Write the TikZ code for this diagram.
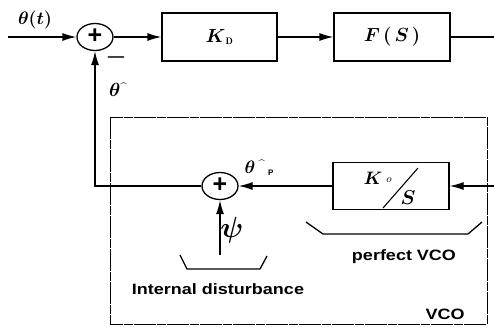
\RequirePackage{fix-cm}
\documentclass[tikz,border=0pt]{standalone}
\usepackage{fontspec}
\usepackage{bm}
\usepackage{graphicx}
\usetikzlibrary{arrows.meta,shapes.geometric}
\newfontfamily\hvfont{Liberation Sans}
\newcommand{\mfs}[1]{\fontsize{#1}{#1}\selectfont}
\newcommand{\lbl}[1]{{\hvfont\bfseries\fontsize{15}{15}\selectfont\scalebox{1.2}[1]{#1}}}
\newcommand{\hatmark}[1]{\raisebox{#1}{\fontsize{12}{12}\selectfont\^{}}}
\begin{document}
\begin{tikzpicture}[x=1pt,y=-1pt,
  line width=1.3pt,
  blk/.style={draw, rectangle, minimum width=116pt, minimum height=48pt, inner sep=0pt},
  sumnode/.style={draw, ellipse, minimum width=36pt, minimum height=27pt, inner sep=0pt, font={\hvfont\bfseries\fontsize{25}{25}\selectfont}},
  arr/.style={-{Latex[length=14pt,width=8pt]}},
  txt/.style={inner sep=0pt},
  vcobox/.style={line width=0.8pt, dash pattern=on 22pt off 1pt on 9pt off 1pt}
]
\useasboundingbox (0,0) rectangle (494,327);
% top path
\node[sumnode] (s1) at (95,37) {\raisebox{1pt}{+}};
\node[blk, minimum width=115pt] (kd) at (219.5,37) {\mfs{19}$\bm{K}_{\scriptscriptstyle\,\mathbf{D}}$};
\node[blk] (fs) at (392,37) {\mfs{19}$\bm{F\,(\,S\,)}$};
\coordinate (in) at (8,37);
\coordinate (out) at (494,37);
\draw[arr] (in) -- (s1);
\draw[arr] (s1) -- (kd);
\draw[arr] (kd) -- (fs);
\draw (fs) -- (out);
% VCO inner
\node[sumnode] (s2) at (220,186) {\raisebox{1pt}{+}};
\node[blk, minimum height=47pt] (ko) at (391,186) {};
\coordinate (rin) at (494,186);
\coordinate (corner) at (95,186);
\coordinate (psib) at (220,255);
\draw[arr] (rin) -- (ko);
\draw[arr] (ko) -- (s2);
\draw[arr] (s2.west) -- (corner) -- (s1.south);
\draw[arr] (psib) -- (s2.south);
% K0/S content
\node[txt] (kk) at (373,178) {\mfs{18}$\bm{K}$};
\node[txt] (kosub) at (389,180) {\mfs{11}$o$};
\node[txt] (ks) at (408,198) {\mfs{20}$\bm{S}$};
\draw[line width=1.1pt] (383,208) -- (418,168);
% dashed VCO box
\draw[vcobox] (110,117) rectangle (487,324);
% labels
\node[txt] (lt) at (35,20) {\mfs{18}$\bm{\theta(t)}$};
\node[txt] (lth) at (118,90) {\mfs{19}$\bm{\theta}$\hatmark{5pt}};
\node[txt] (minus) at (116,57) {\mfs{24}$\bm{-}$};
\node[txt] (thp) at (259,168) {\mfs{18}$\bm{\theta}$\,\hatmark{5pt}\,\raisebox{-2pt}{\fontsize{8}{8}\selectfont\hvfont\bfseries P}};
\node[txt] (psi) at (232,230) {\mfs{29}$\bm{\psi}$};
% braces
\draw (306,222) -- (323,234) -- (468,234) -- (482,222);
\draw (180,255) -- (187,269) -- (260,269) -- (267,256);
% sans labels
\node[txt, anchor=base] (pv) at (404,260) {\lbl{perfect VCO}};
\node[txt, anchor=base] (id) at (218,294) {\lbl{Internal disturbance}};
\node[txt, anchor=base] (vco) at (445,319) {\lbl{VCO}};
\end{tikzpicture}
\end{document}
